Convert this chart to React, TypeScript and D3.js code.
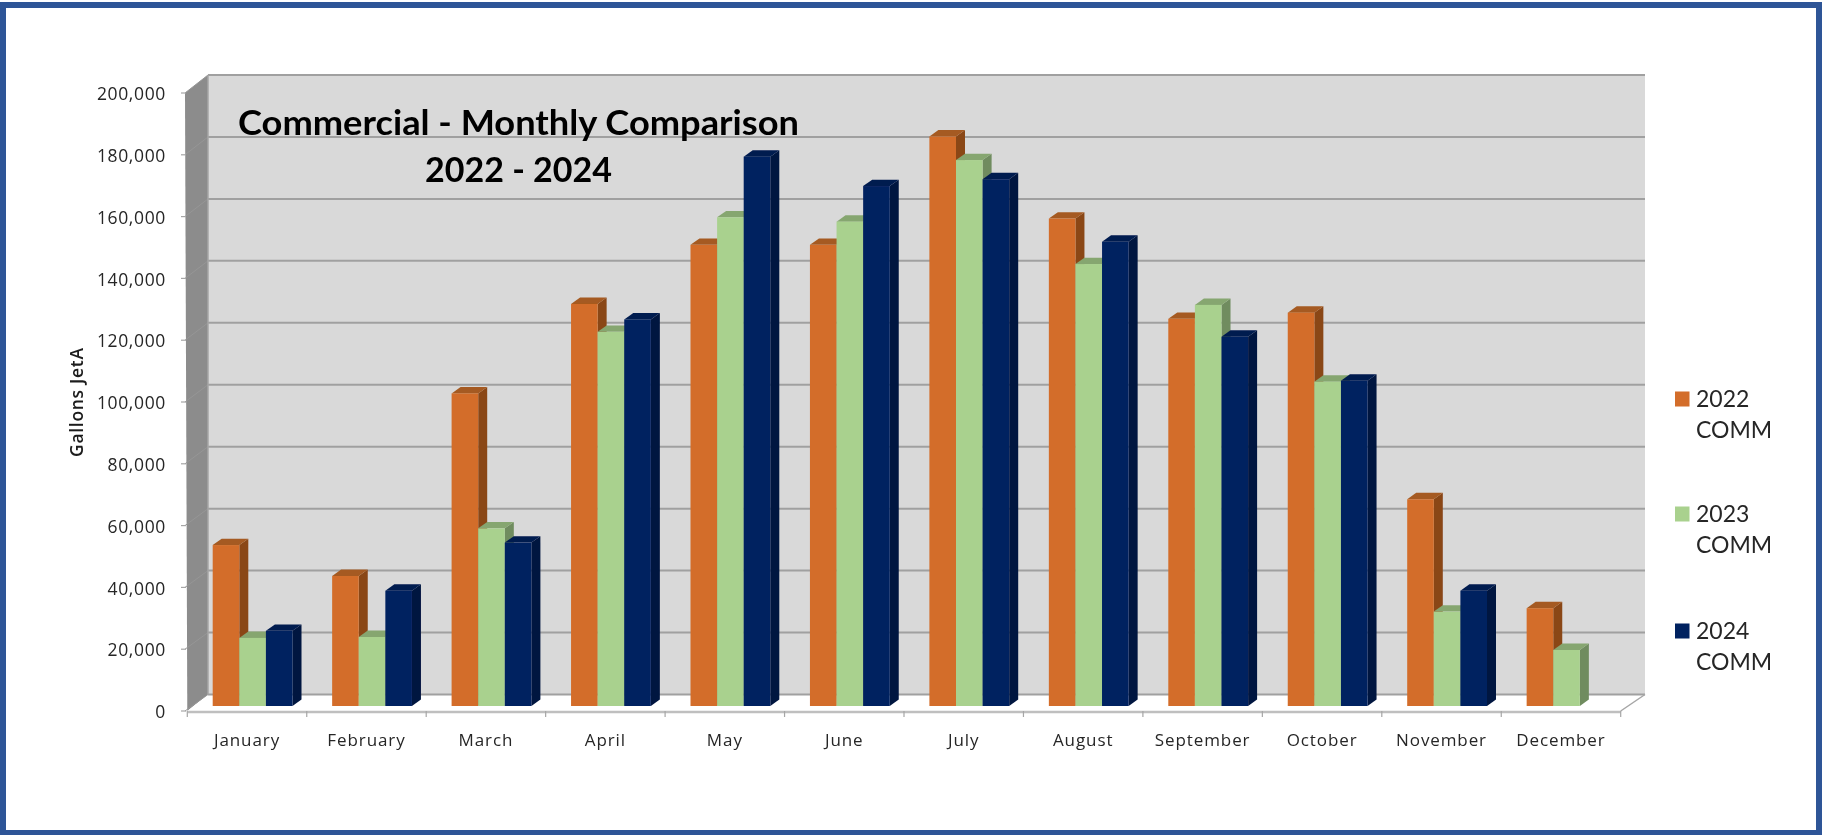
import React from "react";
import * as d3 from "d3";

const months = ["January","February","March","April","May","June","July","August","September","October","November","December"];
const seriesNames = ["2022 COMM","2023 COMM","2024 COMM"];
const values2022 = [52000,42000,101000,129900,149000,149000,184000,157500,125100,127100,66800,31600];
const values2023 = [22000,22300,57400,120900,157900,156500,176400,142800,129600,104800,30500,18100];
const values2024: (number|null)[] = [24300,37250,52800,124900,177500,168000,170200,150000,119300,105100,37250,null];
const yTicks = [0,20000,40000,60000,80000,100000,120000,140000,160000,180000,200000];
const faceColors = ["#D36D29","#A9D18E","#002060"];
const sideColors = ["#8A4718","#6F8C5E","#00153F"];
const topColors = ["#A55A20","#86A670","#001A4F"];
const titleLines = ["Commercial - Monthly Comparison","2022 - 2024"];

const W = 1822, H = 835;
const DX = 9, DY = 6.4;
const allSeries = [values2022, values2023, values2024];

const yBack = d3.scaleLinear().domain([0,200000]).range([694.5,75]);
const yFront = d3.scaleLinear().domain([0,200000]).range([711,93]);
const yBar = d3.scaleLinear().domain([0,200000]).range([706,87]);
const x = d3.scaleBand().domain(months).range([187.3,1620.7]).paddingInner(0).paddingOuter(0);
const xInner = d3.scaleBand().domain(seriesNames).range([25.4,105.2]).padding(0);
const fmt = d3.format(",");
const pts = (p: number[][]) => p.map(q => q.join(",")).join(" ");

const axisFont = "'Open Sans', sans-serif";
const calibri = "Lato, sans-serif";

export default function App() {
  const bw = xInner.bandwidth();
  const step = x.step();
  const left = x.range()[0], right = x.range()[1];
  const wallL = 208, wallR = 1645;
  return (
    <svg width={W} height={H} viewBox={`0 0 ${W} ${H}`} style={{position:"fixed",left:0,top:0,background:"#fff"}}>
      <defs>
        <filter id="soft" filterUnits="userSpaceOnUse" x="0" y="0" width={W} height={H}><feGaussianBlur stdDeviation="0.45"/></filter>
      </defs>
      <rect x={0} y={0} width={W} height={H} fill="#fff"/>
      <g filter="url(#soft)">
        <rect x={0} y={2} width={W} height={H-2} fill="#2F5597"/>
        <rect x={6} y={8} width={1810} height={822} fill="#fff"/>
        {/* walls and floor */}
        <rect x={wallL} y={yBack(200000)} width={wallR-wallL} height={yBack(0)-yBack(200000)} fill="#D9D9D9"/>
        <polygon points={pts([[185,yFront(200000)],[wallL,yBack(200000)],[wallL,yBack(0)],[left,yFront(0)]])} fill="#8C8C8C"/>
        <polygon points={pts([[left,yFront(0)],[wallL,yBack(0)],[wallR,yBack(0)],[right,yFront(0)]])} fill="#fff"/>
        {yTicks.map(t => (
          <g key={t}>
            <line x1={wallL} x2={wallR} y1={yBack(t)} y2={yBack(t)} stroke="#A0A0A0" strokeWidth={2}/>
            <line x1={185} x2={wallL} y1={yFront(t)} y2={yBack(t)} stroke="#969696" strokeWidth={1}/>
            <line x1={181} x2={186} y1={yFront(t)} y2={yFront(t)} stroke="#A6A6A6" strokeWidth={1.2}/>
            <text x={166} y={yFront(t)+2.5} textAnchor="end" dominantBaseline="middle" fontFamily={axisFont} fontSize={17.5} letterSpacing={0.65} fill="#262626">{fmt(t)}</text>
          </g>
        ))}
        <line x1={wallL} x2={wallL} y1={yBack(200000)} y2={yBack(0)} stroke="#A6A6A6" strokeWidth={1.5}/>
        <line x1={wallR} x2={right} y1={yBack(0)} y2={yFront(0)} stroke="#A6A6A6" strokeWidth={1.5}/>
        <line x1={left} x2={right} y1={yFront(0)+1} y2={yFront(0)+1} stroke="#BFBFBF" strokeWidth={2.5}/>
        {months.map(m => (
          <line key={m} x1={x(m)} x2={x(m)} y1={yFront(0)} y2={yFront(0)+6} stroke="#A6A6A6" strokeWidth={1.2}/>
        ))}
        <line x1={right} x2={right} y1={yFront(0)} y2={yFront(0)+6} stroke="#A6A6A6" strokeWidth={1.2}/>
        {/* bars */}
        {months.map((m,i) => (
          <g key={m}>
            {seriesNames.map((s,k) => {
              const v = allSeries[k][i];
              if (v == null) return null;
              const x0 = (x(m) as number) + (xInner(s) as number);
              const x1 = x0 + bw;
              const yt = yBar(v), yb = yBar(0);
              return (
                <g key={s}>
                  <polygon points={pts([[x1,yt],[x1+DX,yt-DY],[x1+DX,yb-DY],[x1,yb]])} fill={sideColors[k]}/>
                  <polygon points={pts([[x0,yt],[x0+DX,yt-DY],[x1+DX,yt-DY],[x1,yt]])} fill={topColors[k]}/>
                  <rect x={x0} y={yt} width={bw} height={yb-yt} fill={faceColors[k]}/>
                </g>
              );
            })}
            <text x={(x(m) as number)+step/2} y={741} textAnchor="middle" dominantBaseline="middle" fontFamily={axisFont} fontSize={17} letterSpacing={0.9} fill="#262626">{m}</text>
          </g>
        ))}
        {/* title */}
        <text x={518.5} y={126.5} textAnchor="middle" dominantBaseline="middle" fontFamily={calibri} fontWeight={700} fontSize={34} fill="#000" textLength={561} lengthAdjust="spacingAndGlyphs">{titleLines[0]}</text>
        <text x={518.5} y={173.5} textAnchor="middle" dominantBaseline="middle" fontFamily={calibri} fontWeight={700} fontSize={34} fill="#000" textLength={187} lengthAdjust="spacingAndGlyphs">{titleLines[1]}</text>
        {/* y label */}
        <text transform="translate(78,402.5) rotate(-90)" textAnchor="middle" dominantBaseline="middle" fontFamily={axisFont} fontWeight={600} fontSize={17.5} textLength={109} fill="#1a1a1a">Gallons JetA</text>
        {/* legend */}
        {seriesNames.map((s,k) => {
          const cy = [399,514,631][k];
          const [a,b] = s.split(" ");
          return (
            <g key={s}>
              <rect x={1675} y={cy-7.5} width={14.5} height={15} fill={faceColors[k]}/>
              <text x={1696} y={cy+2} dominantBaseline="middle" fontFamily={calibri} fontSize={23} fill="#262626">{a}</text>
              <text x={1696} y={cy+33} dominantBaseline="middle" fontFamily={calibri} fontSize={23} fill="#262626">{b}</text>
            </g>
          );
        })}
      </g>
    </svg>
  );
}
